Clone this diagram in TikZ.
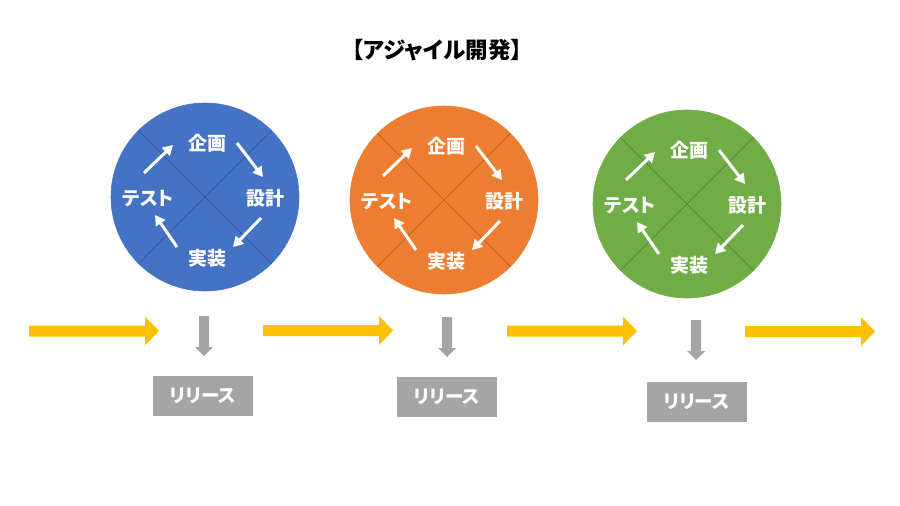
\documentclass[tikz,border=0pt]{standalone}
\usepackage{fontspec}
\setmainfont{Noto Sans CJK JP}[RawFeature=+palt]
\usetikzlibrary{arrows.meta,calc}
\definecolor{cblue}{HTML}{4472C4}
\definecolor{cblueD}{HTML}{2F528F}
\definecolor{corange}{HTML}{ED7D31}
\definecolor{corangeD}{HTML}{AE5A21}
\definecolor{cgreen}{HTML}{70AD47}
\definecolor{cgreenD}{HTML}{507E32}
\definecolor{cyellow}{HTML}{FFC000}
\definecolor{cgray}{HTML}{A5A5A5}
\tikzset{
  cyclecircle/.style={circle, minimum size=188pt, inner sep=0pt, line width=0.6pt},
  phase/.style={text=white, font=\bfseries\fontsize{19}{19}\selectfont, inner sep=0pt},
  warrow/.style={draw=white, line width=3pt, -{Triangle[length=10pt,width=11pt]}},
  releasebox/.style={fill=cgray, minimum width=100pt, minimum height=40pt, inner sep=0pt,
    text=white, font=\bfseries\fontsize{18.5}{18.5}\selectfont},
  titletext/.style={font=\bfseries\fontsize{22.5}{22.5}\selectfont, text=black},
  pics/yarr/.style={code={
    \fill[cyellow] (0,-5.5) -- (116,-5.5) -- (116,-14.5) -- (130,0) -- (116,14.5) -- (116,5.5) -- (0,5.5) -- cycle;}},
  pics/garr/.style={code={
    \fill[cgray] (-5,0) -- (5,0) -- (5,31) -- (9,31) -- (0,40) -- (-9,31) -- (-5,31) -- cycle;}}
}
\begin{document}
\begin{tikzpicture}[x=1pt,y=-1pt]
\useasboundingbox (0,0) rectangle (900,506);
\node[titletext] (title) at (437,50) {【アジャイル開発】};

\foreach \i/\cx/\cy/\cf/\cd in {1/205/197/cblue/cblueD, 2/444/200/corange/corangeD, 3/687/204/cgreen/cgreenD}{
  \begin{scope}[shift={(\cx,\cy)}]
    \node[cyclecircle, fill=\cf, draw=\cf] (circ\i) at (0,0) {};
    \draw[\cd, line width=0.6pt] (circ\i.45) -- (circ\i.225);
    \draw[\cd, line width=0.6pt] (circ\i.135) -- (circ\i.315);
    \node[phase] (plan\i) at (2,-54) {企画};
    \node[phase] (design\i) at (60,1) {設計};
    \node[phase] (impl\i) at (2,61) {実装};
    \node[phase] (test\i) at (-57,2) {テスト};
    \coordinate (a1s\i) at (-61,-24); \coordinate (a1e\i) at (-32,-52);
    \coordinate (a2s\i) at (32,-54);  \coordinate (a2e\i) at (58,-20);
    \coordinate (a3s\i) at (56,21);   \coordinate (a3e\i) at (28,50);
    \coordinate (a4s\i) at (-28,50);  \coordinate (a4e\i) at (-50,18);
    \draw[warrow] (a1s\i) -- (a1e\i);
    \draw[warrow] (a2s\i) -- (a2e\i);
    \draw[warrow] (a3s\i) -- (a3e\i);
    \draw[warrow] (a4s\i) -- (a4e\i);
  \end{scope}
}

\pic at (29,331) {yarr};
\pic at (263,330.5) {yarr};
\pic at (507,331) {yarr};
\pic at (745,331.5) {yarr};

\pic at (204,316) {garr};
\pic at (447,317) {garr};
\pic at (696,320) {garr};

\node[releasebox] (rel1) at (203,396) {リリース};
\node[releasebox] (rel2) at (447,397) {リリース};
\node[releasebox] (rel3) at (696.5,402) {リリース};
\end{tikzpicture}
\end{document}
